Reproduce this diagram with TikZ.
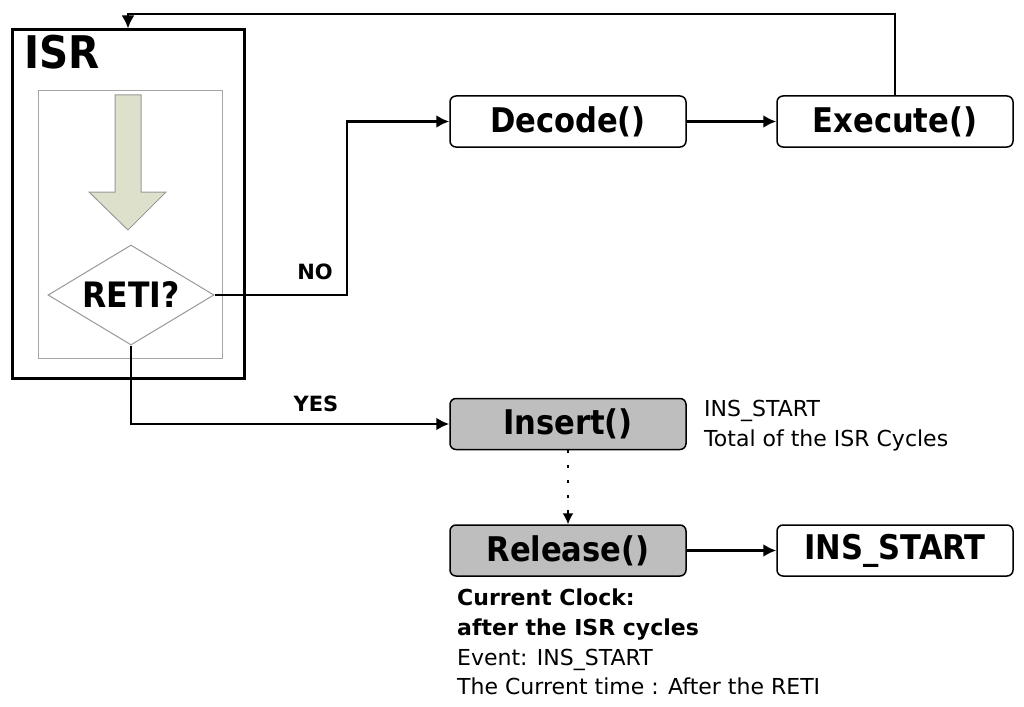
\documentclass[tikz,border=0pt]{standalone}
\usepackage{fontspec}
\setmainfont{DejaVu Sans Condensed}
\newfontfamily\notefont{DejaVu Sans}
\usetikzlibrary{arrows.meta,positioning,shapes.geometric}

\definecolor{boxgray}{RGB}{190,190,190}
\definecolor{arrowgreen}{RGB}{221,225,204}

\tikzset{
  func/.style={rectangle, rounded corners=6pt, draw=black, line width=1.5pt,
    minimum width=236pt, minimum height=51pt, inner sep=0pt,
    font=\fontsize{34}{40}\selectfont\bfseries},
  funcdone/.style={func, fill=boxgray},
  flow/.style={->, line width=2.7pt, >={Latex[length=13pt,width=13pt]}},
  note/.style={inner sep=0pt, align=left, font=\notefont\fontsize{22}{29.8}\selectfont},
  branch/.style={font=\notefont\fontsize{21}{24}\selectfont\bfseries},
}

\begin{document}
\begin{tikzpicture}[x=1pt, y=-1pt]
        \useasboundingbox (0,0) rectangle (1024,706);

        % interrupt service routine
        \node[rectangle, draw=black, line width=3pt, minimum width=232pt, minimum height=348pt] (isr) at (128,204) {};
        \node[anchor=north west, inner sep=0pt, font=\fontsize{45}{48}\selectfont\bfseries] (isrname) at (24,35) {ISR};
        \node[rectangle, draw=gray!70, line width=1pt, minimum width=184pt, minimum height=267pt] (body) at (130,224.5) {};
        \draw[draw=gray!80, line width=1pt, fill=arrowgreen]
            (115,95) -- (141,95) -- (141,192) -- (166,192) -- (128,230) -- (89,192) -- (115,192) -- cycle;
        \node[diamond, aspect=1.66, draw=gray!80, line width=1pt, fill=white, minimum width=166pt, minimum height=100pt, inner sep=0pt,
            font=\fontsize{35}{38}\selectfont\bfseries] (reti) at (131,295) {RETI?};

        % main loop
        \node[func] (decode) at (568,121.5) {Decode()};
        \node[func, right of=decode, node distance=327pt] (execute) {Execute()};
        \node[funcdone] (insert) at (568,424) {Insert()};
        \node[funcdone, below of=insert, node distance=126.5pt] (release) {Release()};
        \node[func, right of=release, node distance=327pt] (insstart) {INS\_START};

        \coordinate (nobend) at (347,295);
        \coordinate (back) at (500,14);
        \coordinate (dotend) at (568,513);

        \draw[flow] (reti.east) -- (nobend) |- (decode.west);
        \node[branch] (nolabel) at (315,272) {NO};
        \draw[flow] (reti.south) |- (insert.west);
        \node[branch] (yeslabel) at (316,404) {YES};

        \path[flow]
        (decode) edge (execute)
        (release) edge (insstart);
        \draw[flow] (execute.north) |- (back) -| (isr.north);
        \draw[line width=2.5pt, dash pattern=on 2.5pt off 12.5pt] (insert.south) -- (dotend);
        \draw[->, line width=1.5pt, >={Latex[length=11pt,width=11pt]}] (dotend) -- (release.north);

        % notes
        \node[note, anchor=north west] (insnote) at (704,400) {INS\_START\\Total of the ISR Cycles};
        \node[note, anchor=north west] (relnote) at (457,588.5)
            {\textbf{Current Clock:}\\\textbf{after the ISR cycles}\\Event: INS\_START\\The Current time : After the RETI};
    \end{tikzpicture}
\end{document}
